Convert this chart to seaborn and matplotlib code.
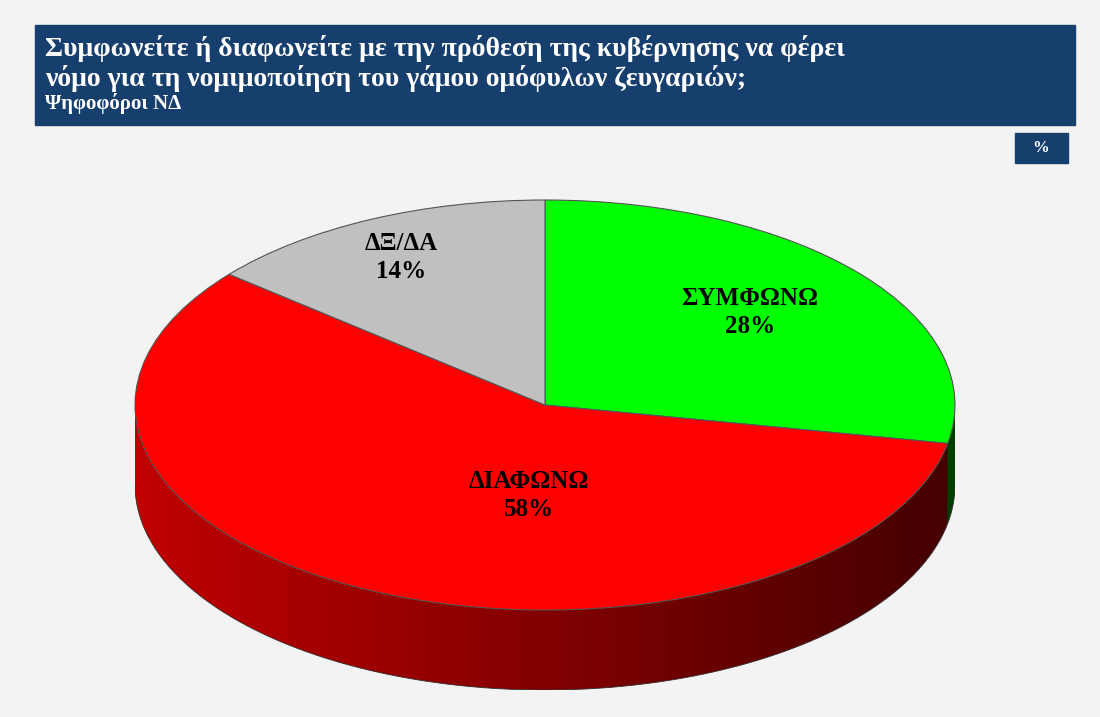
import numpy as np
import matplotlib
matplotlib.use("Agg")
import matplotlib.pyplot as plt
from matplotlib.patches import Rectangle, Polygon
import seaborn as sns

labels = ["ΣΥΜΦΩΝΩ", "ΔΙΑΦΩΝΩ", "ΔΞ/ΔΑ"]
values = [28, 58, 14]
top_colors = ["#00ff00", "#ff0000", "#c0c0c0"]
side_colors = ["#00b000", "#c00000", "#909090"]
label_pos = [(0.50, 0.45), (-0.04, -0.44), (-0.35, 0.72)]

sns.set_theme(style="white")
plt.rcParams['font.family'] = ['Liberation Serif', 'DejaVu Serif']

fig = plt.figure(figsize=(11, 7.17), dpi=100)
fig.patch.set_facecolor("#f3f3f3")

bg = fig.add_axes([0, 0, 1, 1]); bg.set_xlim(0, 1100); bg.set_ylim(717, 0); bg.axis("off")
bg.add_patch(Rectangle((35, 25), 1040, 100, color="#173f6d"))
bg.text(45, 48, "Συμφωνείτε ή διαφωνείτε με την πρόθεση της κυβέρνησης να φέρει",
        color="white", fontsize=20, fontweight="bold", va="center")
bg.text(45, 79, "νόμο για τη νομιμοποίηση του γάμου ομόφυλων ζευγαριών;",
        color="white", fontsize=20, fontweight="bold", va="center")
bg.text(45, 104, "Ψηφοφόροι ΝΔ", color="white", fontsize=15, fontweight="bold", va="center")
bg.add_patch(Rectangle((1015, 133), 53, 30, color="#173f6d"))
bg.text(1041, 148, "%", color="white", fontsize=12, fontweight="bold", ha="center", va="center")

depth = 0.39
ax = fig.add_axes([135/1100, (717-690)/717, 820/1100, (690-200)/717])
n = 40
for off in np.linspace(-depth, 0, n, endpoint=False):
    ax.pie(values, colors=side_colors, startangle=90, counterclock=False,
           center=(0, off), radius=1, wedgeprops=dict(linewidth=0))
t = np.linspace(np.pi, 2*np.pi, 200)
band = np.concatenate([np.c_[np.cos(t), np.sin(t)], np.c_[np.cos(t[::-1]), np.sin(t[::-1]) - depth]])
poly = Polygon(band, closed=True, facecolor="none", edgecolor="none")
ax.add_patch(poly)
grad = np.zeros((2, 256, 4)); grad[..., 3] = np.linspace(0.0, 0.65, 256)[None, :]
im = ax.imshow(grad, extent=(-1, 1, -1 - depth, 0), aspect="auto", zorder=3)
im.set_clip_path(poly)
ax.plot(np.cos(t), np.sin(t) - depth, color="#333333", lw=0.6, zorder=4)
wedges, _ = ax.pie(values, colors=top_colors, startangle=90, counterclock=False,
                   center=(0, 0), radius=1, wedgeprops=dict(linewidth=0.8, edgecolor="#555555"))
for wd in wedges:
    wd.set_zorder(5)
for lab, v, (x, y) in zip(labels, values, label_pos):
    ax.text(x, y, f"{lab}\n{v}%", ha="center", va="center", fontsize=18, fontweight="bold",
            color="black", zorder=6, linespacing=1.3)
ax.set_aspect("auto")
ax.set_xlim(-1, 1)
ax.set_ylim(-1 - depth, 1)
ax.axis("off")

fig.savefig("out.png", dpi=100, facecolor=fig.get_facecolor())
